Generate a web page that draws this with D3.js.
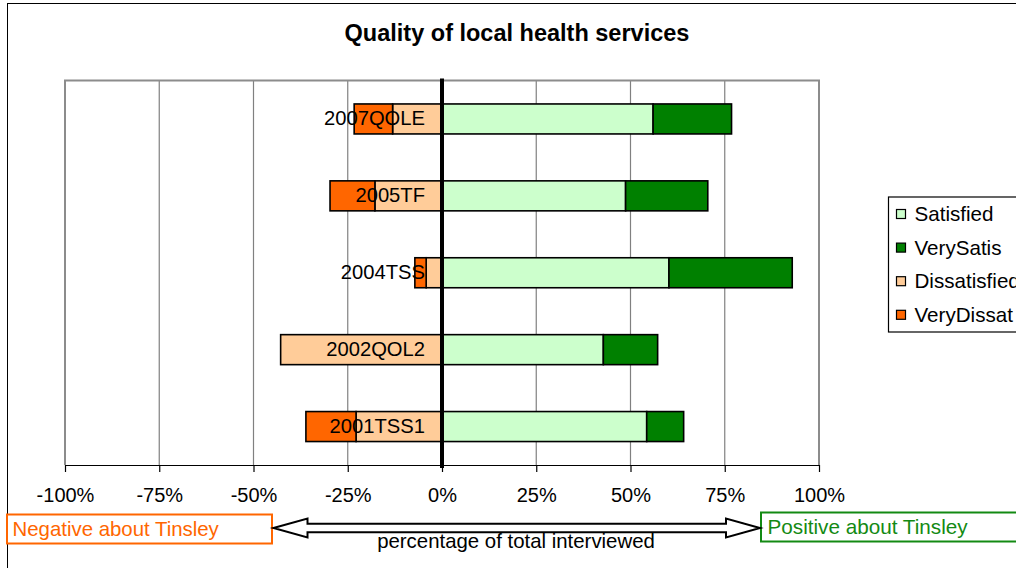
<!DOCTYPE html>
<html>
<head>
<meta charset="utf-8">
<script src="https://cdn.jsdelivr.net/npm/d3@7"></script>
<style>
  html, body { margin: 0; padding: 0; background: #fff; }
  svg { display: block; font-family: "Liberation Sans", Arial, sans-serif; }
</style>
</head>
<body>
<svg id="chart" width="1016" height="568"></svg>
<script>
// ---- data ----
const categories   = ["2007QOLE", "2005TF", "2004TSS", "2002QOL2", "2001TSS1"];
const satisfied    = [56.0, 48.7, 60.2, 42.8, 54.3];
const verySatis    = [20.8, 21.8, 32.7, 14.4, 9.8];
const dissatisfied = [13.1, 17.8, 4.2, 42.8, 22.8];
const veryDissat   = [10.2, 11.9, 3.0, 0.0, 13.3];
const seriesNames  = ["Satisfied", "VerySatis", "Dissatisfied", "VeryDissat"];
const tickValues   = [-100, -75, -50, -25, 0, 25, 50, 75, 100];
const titleText    = "Quality of local health services";
const axisTitle    = "percentage of total interviewed";
const negLabel     = "Negative about Tinsley";
const posLabel     = "Positive about Tinsley";

// ---- styles ----
const colors = {Satisfied: "#CCFFCC", VerySatis: "#008000", Dissatisfied: "#FFCC99", VeryDissat: "#FF6600"};

const svg = d3.select("#chart");
const plot = {left: 65, right: 819, top: 80.5, bottom: 465};

const x = d3.scaleLinear().domain([-100, 100]).range([plot.left, plot.right]);
const y = d3.scaleBand().domain(categories).range([plot.top, plot.bottom]).paddingInner(0.61).paddingOuter(0.305);

// outer chart border
svg.append("rect").attr("x", 7.5).attr("y", 3.5).attr("width", 1100).attr("height", 700)
  .attr("fill", "none").attr("stroke", "#000").attr("stroke-width", 1);

// title
svg.append("text").attr("x", 517).attr("y", 41).attr("text-anchor", "middle")
  .attr("font-size", 23.5).attr("font-weight", "bold").text(titleText);

// gridlines
svg.append("g").selectAll("line").data(tickValues.filter(v => v !== 0 && Math.abs(v) !== 100))
  .join("line")
  .attr("x1", d => x(d)).attr("x2", d => x(d))
  .attr("y1", plot.top).attr("y2", plot.bottom)
  .attr("stroke", "#808080").attr("stroke-width", 1.2);

// plot border (gray)
svg.append("path")
  .attr("d", `M${plot.left},${plot.bottom}V${plot.top}H${plot.right}V${plot.bottom}`)
  .attr("fill", "none").attr("stroke", "#8c8c8c").attr("stroke-width", 2);

// stacked data
const rows = categories.map((c, i) => ({
  cat: c,
  segs: [
    {name: "Satisfied",    x0: 0, x1: satisfied[i]},
    {name: "VerySatis",    x0: satisfied[i], x1: satisfied[i] + verySatis[i]},
    {name: "Dissatisfied", x0: -dissatisfied[i], x1: 0},
    {name: "VeryDissat",   x0: -(dissatisfied[i] + veryDissat[i]), x1: -dissatisfied[i]}
  ].filter(s => s.x1 - s.x0 > 0)
}));

const gBars = svg.append("g");
rows.forEach(r => {
  gBars.selectAll(null).data(r.segs).join("rect")
    .attr("x", d => x(d.x0)).attr("width", d => x(d.x1) - x(d.x0))
    .attr("y", y(r.cat)).attr("height", y.bandwidth())
    .attr("fill", d => colors[d.name])
    .attr("stroke", "#000").attr("stroke-width", 1.6);
});

// x axis
const xAxis = d3.axisBottom(x).tickValues(tickValues).tickFormat(d => d + "%")
  .tickSize(7).tickPadding(16).tickSizeOuter(0);
const gx = svg.append("g").attr("transform", `translate(0,${plot.bottom})`).call(xAxis);
gx.select(".domain").attr("stroke", "#000").attr("stroke-width", 1.2);
gx.selectAll(".tick line").attr("stroke", "#000").attr("stroke-width", 1.2);
gx.selectAll(".tick text").attr("font-size", 20).attr("font-family", "Liberation Sans, Arial, sans-serif").attr("fill", "#000");

// zero line (thick)
svg.append("line").attr("x1", x(0)).attr("x2", x(0))
  .attr("y1", plot.top - 2).attr("y2", plot.bottom + 3)
  .attr("stroke", "#000").attr("stroke-width", 4);

// category labels (left axis at 0)
const yAxis = d3.axisLeft(y).tickSize(0).tickPadding(17);
const gy = svg.append("g").attr("transform", `translate(${x(0)},0)`).call(yAxis);
gy.select(".domain").remove();
gy.selectAll(".tick text").attr("font-size", 20.2).attr("font-family", "Liberation Sans, Arial, sans-serif").attr("fill", "#000");

// legend
const lg = svg.append("g");
lg.append("rect").attr("x", 888.5).attr("y", 197).attr("width", 200).attr("height", 135)
  .attr("fill", "#fff").attr("stroke", "#000").attr("stroke-width", 1.2);
seriesNames.forEach((n, i) => {
  const cy = 214 + i * 33.6;
  lg.append("rect").attr("x", 896.5).attr("y", cy - 4.5).attr("width", 9).attr("height", 9)
    .attr("fill", colors[n]).attr("stroke", "#000").attr("stroke-width", 1.2);
  lg.append("text").attr("x", 914.5).attr("y", cy + 7).attr("font-size", 20.6).text(n);
});

// annotation boxes
svg.append("rect").attr("x", 7).attr("y", 514.5).attr("width", 265).attr("height", 29)
  .attr("fill", "#fff").attr("stroke", "#FF6600").attr("stroke-width", 2);
svg.append("text").attr("x", 12.5).attr("y", 536).attr("font-size", 20.4).attr("fill", "#FF6600").text(negLabel);

svg.append("rect").attr("x", 761).attr("y", 512.5).attr("width", 300).attr("height", 29)
  .attr("fill", "#fff").attr("stroke", "#138a13").attr("stroke-width", 2);
svg.append("text").attr("x", 767.5).attr("y", 534).attr("font-size", 20.7).attr("fill", "#138a13").text(posLabel);

// double arrow
const ax0 = 273.5, ax1 = 760, ay = 528, hl = 34, hh = 9.5, sh = 4.2;
const arrowPts = [
  [ax0, ay], [ax0 + hl, ay - hh], [ax0 + hl, ay - sh], [ax1 - hl, ay - sh], [ax1 - hl, ay - hh],
  [ax1, ay], [ax1 - hl, ay + hh], [ax1 - hl, ay + sh], [ax0 + hl, ay + sh], [ax0 + hl, ay + hh]
];
svg.append("path").attr("d", d3.line()(arrowPts) + "Z")
  .attr("fill", "#fff").attr("stroke", "#000").attr("stroke-width", 2).attr("stroke-linejoin", "miter");

// axis title
svg.append("text").attr("x", 516).attr("y", 547.5).attr("text-anchor", "middle")
  .attr("font-size", 20.4).text(axisTitle);
</script>
</body>
</html>
